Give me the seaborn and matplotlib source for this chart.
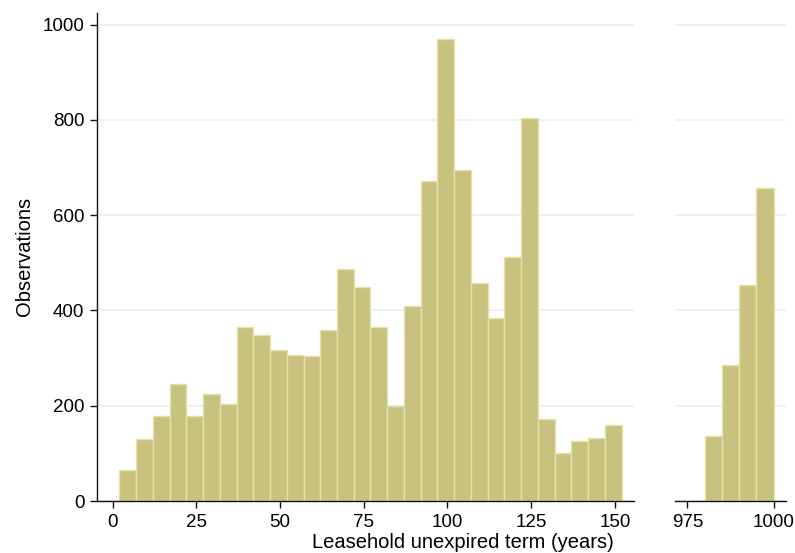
import numpy as np
import pandas as pd
import matplotlib
matplotlib.use("Agg")
import matplotlib.pyplot as plt
import seaborn as sns

# Data: bin left edges (years) and observation counts
left_bins_start = [2, 7, 12, 17, 22, 27, 32, 37, 42, 47, 52, 57, 62, 67, 72,
                   77, 82, 87, 92, 97, 102, 107, 112, 117, 122, 127, 132, 137, 142, 147]
left_counts = [65, 130, 178, 245, 178, 225, 203, 365, 348, 318, 307, 305, 360, 488, 450,
               365, 200, 410, 672, 970, 695, 458, 385, 512, 805, 172, 100, 125, 132, 160]
right_bins_start = [980, 985, 990, 995]
right_counts = [137, 285, 453, 658]
bin_width = 5

y_ticks = [0, 200, 400, 600, 800, 1000]
left_xticks = [0, 25, 50, 75, 100, 125, 150]
right_xticks = [975, 1000]

sns.set_style("white")
plt.rcParams['font.family'] = ['Liberation Sans', 'DejaVu Sans']
plt.rcParams['text.color'] = 'black'
plt.rcParams['axes.labelcolor'] = 'black'
plt.rcParams['xtick.color'] = 'black'
plt.rcParams['ytick.color'] = 'black'

FACE = '#C9C27F'
EDGE = '#E6E1AC'
GRID = '#E6F0F2'

fig = plt.figure(figsize=(7.95, 5.53), dpi=100)
ax1 = fig.add_axes([0.122, 0.094, 0.675, 0.883])
ax2 = fig.add_axes([0.849, 0.094, 0.140, 0.883])

def draw(ax, starts, counts):
    starts = np.array(starts, dtype=float)
    df = pd.DataFrame({'x': starts + bin_width / 2, 'w': counts})
    edges = list(starts) + [starts[-1] + bin_width]
    sns.histplot(data=df, x='x', weights='w', bins=edges, ax=ax,
                 color=FACE, edgecolor=EDGE, linewidth=1.0, alpha=1.0)
    ax.set_ylim(0, 1025)
    ax.set_yticks(y_ticks)
    ax.yaxis.grid(True, color=GRID, linewidth=1.2)
    ax.xaxis.grid(False)
    ax.set_axisbelow(True)
    for s in ['top', 'right']:
        ax.spines[s].set_visible(False)
    ax.spines['bottom'].set_color('#111111')
    ax.spines['bottom'].set_linewidth(1.0)
    ax.set_xlabel('')
    ax.set_ylabel('')

draw(ax1, left_bins_start, left_counts)
draw(ax2, right_bins_start, right_counts)

ax1.set_xlim(-4.7, 155.6)
ax1.set_xticks(left_xticks)
ax1.spines['left'].set_color('#111111')
ax1.spines['left'].set_linewidth(1.0)
ax1.tick_params(axis='both', which='both', direction='out', length=5, width=1,
                color='#111111', labelcolor='black', labelsize=13.5,
                left=True, bottom=True, pad=4)
ax1.set_ylabel('Observations', fontsize=14.5, labelpad=6, color='black')

ax2.set_xlim(971.4, 1003.7)
ax2.set_xticks(right_xticks)
ax2.spines['left'].set_visible(False)
ax2.tick_params(axis='y', left=False, labelleft=False)
ax2.tick_params(axis='x', direction='out', length=5, width=1, color='#111111',
                labelcolor='black', labelsize=13.5, bottom=True, pad=4)

fig.text(0.582, 0.002, 'Leasehold unexpired term (years)', ha='center', va='bottom',
         fontsize=14.5, color='black')

fig.savefig('out.png', dpi=100)
